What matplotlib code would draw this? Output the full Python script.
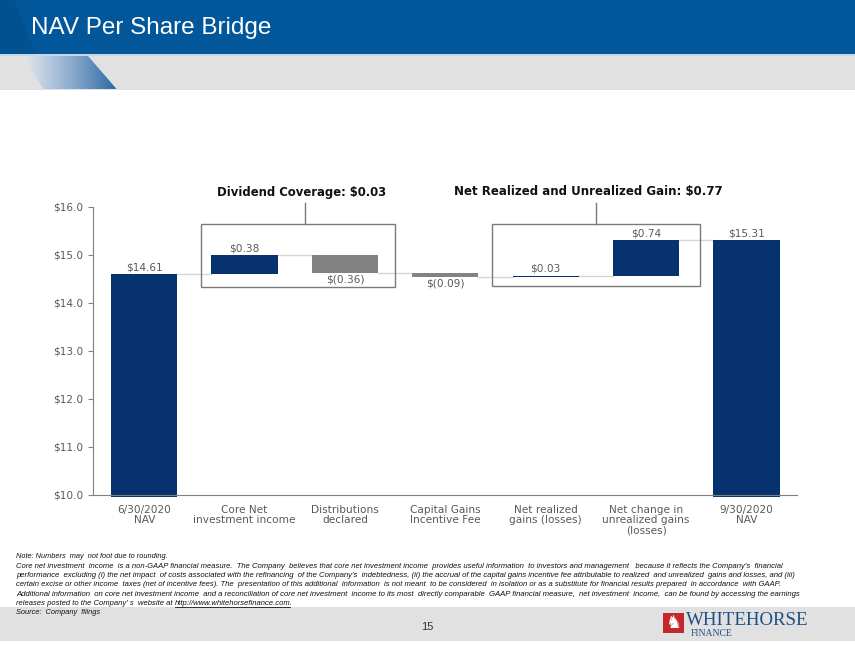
import matplotlib
matplotlib.use("Agg")
import matplotlib.pyplot as plt
import numpy as np
from matplotlib import font_manager
from matplotlib.patches import Polygon, Rectangle
from matplotlib.colors import LinearSegmentedColormap

# ---------------- data ----------------
categories = ["6/30/2020\nNAV", "Core Net\ninvestment income", "Distributions\ndeclared",
              "Capital Gains\nIncentive Fee", "Net realized\ngains (losses)",
              "Net change in\nunrealized gains\n(losses)", "9/30/2020\nNAV"]
values = [14.61, 0.38, -0.36, -0.09, 0.03, 0.74, 15.31]
is_total = [True, False, False, False, False, False, True]
value_labels = ["$14.61", "$0.38", "$(0.36)", "$(0.09)", "$0.03", "$0.74", "$15.31"]
y_ticks = [10.0, 11.0, 12.0, 13.0, 14.0, 15.0, 16.0]
y_tick_labels = ["$10.0", "$11.0", "$12.0", "$13.0", "$14.0", "$15.0", "$16.0"]
group1_title = "Dividend Coverage: $0.03"
group2_title = "Net Realized and Unrealized Gain: $0.77"

title = "NAV Per Share Bridge"
notes = [
    "Note: Numbers  may  not foot due to rounding.",
    "Core net investment  income  is a non-GAAP financial measure.  The Company  believes that core net investment income  provides useful information  to investors and management   because it reflects the Company's  financial",
    "performance  excluding (i) the net impact  of costs associated with the refinancing  of the Company's  indebtedness, (ii) the accrual of the capital gains incentive fee attributable to realized  and unrealized  gains and losses, and (iii)",
    "certain excise or other income  taxes (net of incentive fees). The  presentation of this additional  information  is not meant  to be considered  in isolation or as a substitute for financial results prepared  in accordance  with GAAP.",
    "Additional information  on core net investment income  and a reconciliation of core net investment  income to its most  directly comparable  GAAP financial measure,  net investment  income,  can be found by accessing the earnings",
    "releases posted to the Company' s  website at ",
    "Source:  Company  filings",
]
note_link = "http://www.whitehorsefinance.com"
page_number = "15"

NAVY = "#06336F"
GREY_BAR = "#828282"
TXT = "#595959"

W, H = 855, 654
fig = plt.figure(figsize=(W / 100, H / 100), dpi=100)
fig.patch.set_facecolor("white")

# background axes in pixel coordinates
bg = fig.add_axes([0, 0, 1, 1], zorder=0)
bg.set_xlim(0, W)
bg.set_ylim(H, 0)
bg.axis("off")

# header
bg.add_patch(Rectangle((0, 0), W, 54, color="#02579B", lw=0))
bg.add_patch(Polygon([(0, 0), (14, 0), (36, 54), (0, 54)], closed=True, color="#01467F", alpha=0.4, lw=0))
bg.add_patch(Rectangle((0, 54), W, 2, color="#C9D6E3", lw=0))
bg.add_patch(Rectangle((0, 56), W, 33.5, color="#E1E1E1", lw=0))
poly = Polygon([(22, 56), (88, 56), (117, 89.5), (44, 89.5)], closed=True, facecolor="none", lw=0)
bg.add_patch(poly)
cmap = LinearSegmentedColormap.from_list("stripe", ["#E6EAEF", "#8FAED0", "#2A67A3"])
grad = np.linspace(0, 1, 200).reshape(1, -1)
im = bg.imshow(grad, extent=(22, 117, 89.5, 56), cmap=cmap, aspect="auto", zorder=2)
im.set_clip_path(poly)

# footer band
bg.add_patch(Rectangle((0, 606.5), W, 34, color="#E1E1E1", lw=0))
bg.set_xlim(0, W)
bg.set_ylim(H, 0)

renderer = fig.canvas.get_renderer()


def fit(t, target_w):
    for _ in range(3):
        bb = t.get_window_extent(renderer)
        if bb.width > 0:
            t.set_fontsize(t.get_fontsize() * target_w / bb.width)
    return t


def has_font(name):
    try:
        font_manager.findfont(font_manager.FontProperties(family=name), fallback_to_default=False)
        return True
    except Exception:
        return False


SANS = "Liberation Sans"
NARROW = "Liberation Sans Narrow" if has_font("Liberation Sans Narrow") else "Liberation Sans"
SERIF = "Liberation Serif"

# title
t = bg.text(31, 34, title, color="white", family=SANS, fontsize=18, ha="left", va="baseline")
fit(t, 241)

# notes
note_widths = [152, 762, 779, 763, 778, None, 84]
note_y0, note_dy = 557, 9.25
note_fs = None
prefix = None
for i, line in enumerate(notes):
    tt = bg.text(16, note_y0 + i * note_dy, line, family=NARROW, style="italic",
                 fontsize=5.5, color="#111111", ha="left", va="center")
    if note_widths[i] is not None:
        fit(tt, note_widths[i])
        if i == 3:
            note_fs = tt.get_fontsize()
    if i == 5:
        prefix = tt
# link on line 6
prefix.set_fontsize(note_fs)
pb = prefix.get_window_extent(renderer)
inv = bg.transData.inverted()
x_link = inv.transform((pb.x1, pb.y0))[0]
ylink = note_y0 + 5 * note_dy
lk = bg.text(x_link, ylink, note_link + ".", family=NARROW, style="italic",
             fontsize=note_fs, color="#111111", ha="left", va="center")
lb = lk.get_window_extent(renderer)
(lx0, _), (lx1, _) = inv.transform([(lb.x0, lb.y0), (lb.x1 - 3, lb.y0)])
bg.plot([lx0, lx1], [ylink + 4, ylink + 4], color="#111111", lw=0.6)

# page number
bg.text(427, 627, page_number, family=NARROW, fontsize=8, color="#333333", ha="center", va="center")

# logo
bg.add_patch(Rectangle((663, 613), 21, 20, color="#C4282F", lw=0))
bg.text(673.5, 623.5, "\u265E", family="DejaVu Sans", fontsize=13, color="white", ha="center", va="center")
wt = bg.text(686, 625, "WHITEHORSE", family=SERIF, fontsize=14, color="#1F4F82", ha="left", va="baseline")
fit(wt, 123)
ft = bg.text(691, 635.5, "FINANCE", family=SERIF, fontsize=6, color="#1F4F82", ha="left", va="baseline")
fit(ft, 42)

# ---------------- chart ----------------
x0_px, x1_px = 92.7, 796.7
yb_px, yt_px = 495, 207
ax = fig.add_axes([x0_px / W, 1 - yb_px / H, (x1_px - x0_px) / W, (yb_px - yt_px) / H], zorder=3)
ax.patch.set_alpha(0)
ax.set_xlim(-0.513, 6.50)
ax.set_ylim(10, 16)

bw = 0.66
n = len(values)
xs = np.arange(n)
bottoms, tops = [], []
running = 0.0
for i, v in enumerate(values):
    if is_total[i]:
        b, tp = 10.0, v
        running = v
    else:
        if v >= 0:
            b, tp = running, running + v
        else:
            b, tp = running + v, running
        running = running + v
    bottoms.append(b)
    tops.append(tp)

for i in range(n):
    col = NAVY if (is_total[i] or values[i] >= 0) else GREY_BAR
    b = bottoms[i] - (0.04 if is_total[i] else 0)
    ax.bar(xs[i], tops[i] - b, bottom=b, width=bw, color=col, lw=0, zorder=3, clip_on=False)

# connectors
running = 0.0
for i in range(n - 1):
    if is_total[i]:
        running = values[i]
    else:
        running += values[i]
    ax.plot([xs[i] + bw / 2, xs[i + 1] - bw / 2], [running, running], color="#D6D6D6", lw=1, zorder=2)

# value labels
for i in range(n):
    if is_total[i] or values[i] >= 0:
        ax.annotate(value_labels[i], (xs[i], tops[i]), xytext=(0, 1.2), textcoords="offset points",
                    ha="center", va="bottom", fontsize=7.6, color=TXT, family="DejaVu Sans", zorder=5)
    else:
        ax.annotate(value_labels[i], (xs[i], bottoms[i]), xytext=(0, -1.2), textcoords="offset points",
                    ha="center", va="top", fontsize=7.6, color=TXT, family="DejaVu Sans", zorder=5)


# group boxes
def group_box(x_lo, x_hi, y_lo, y_hi, x_stem, stem_top, title_txt, x_title, y_title, tw):
    ax.add_patch(Rectangle((x_lo, y_lo), x_hi - x_lo, y_hi - y_lo, fill=False, ec="#7A7A7A", lw=1.0,
                           zorder=4, clip_on=False))
    ax.plot([x_stem, x_stem], [y_hi, stem_top], color="#7A7A7A", lw=1.0, zorder=4, clip_on=False)
    tt = ax.text(x_title, y_title, title_txt, ha="center", va="center", fontsize=8.5, weight="bold",
                 color="#111111", family="DejaVu Sans", clip_on=False)
    fit(tt, tw)


group_box(0.569, 2.496, 14.34, 15.64, 1.606, 16.09, group1_title, 1.566, 16.30, 170)
group_box(3.469, 5.532, 14.36, 15.65, 4.50, 16.09, group2_title, 4.427, 16.33, 265)

# axes styling
for s in ["top", "right"]:
    ax.spines[s].set_visible(False)
ax.spines["left"].set_color("#808080")
ax.spines["bottom"].set_color("#808080")
ax.spines["left"].set_zorder(6)
ax.spines["bottom"].set_zorder(6)
ax.set_yticks(y_ticks)
ax.set_yticklabels(y_tick_labels, fontsize=7.6, color=TXT, family="DejaVu Sans")
ax.tick_params(axis="y", length=3.5, color="#808080", pad=3)
ax.set_xticks(xs)
ax.set_xticklabels(categories, fontsize=7.6, color=TXT, family="DejaVu Sans", linespacing=1.05, va="top")
ax.tick_params(axis="x", length=0, pad=7)

fig.savefig("out.png", dpi=100, facecolor="white")
